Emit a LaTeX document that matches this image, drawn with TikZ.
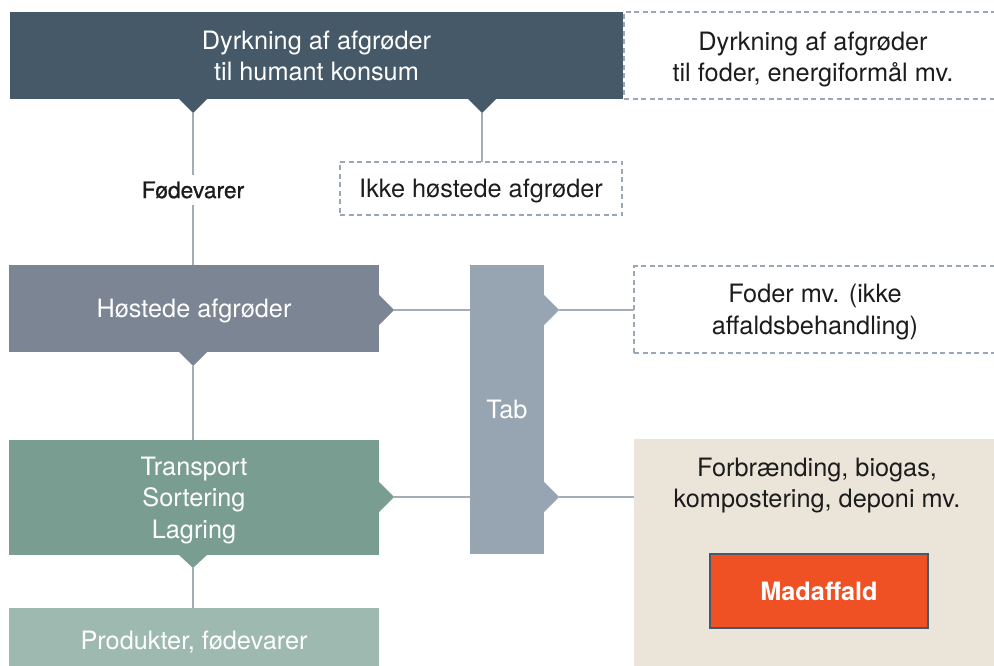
\documentclass[tikz,border=0pt]{standalone}
\usepackage{fontspec}
\setmainfont{TeX Gyre Heros}
\definecolor{darkslate}{HTML}{455968}
\definecolor{hoestc}{HTML}{7B8593}
\definecolor{tabc}{HTML}{97A5B3}
\definecolor{transc}{HTML}{7A9D92}
\definecolor{prodc}{HTML}{9EB9AF}
\definecolor{beigec}{HTML}{EBE4D9}
\definecolor{orangec}{HTML}{F05124}
\definecolor{dashc}{HTML}{9AA8B5}
\definecolor{linec}{HTML}{A3ADB5}
\definecolor{textc}{HTML}{1C1C1C}
\begin{document}
\begin{tikzpicture}[x=1pt,y=-1pt,
  font=\fontsize{25.3}{31.5}\selectfont,
  box/.style={inner sep=0pt, outer sep=0pt, align=center, text=white, text depth=0pt},
  dashbox/.style={inner sep=0pt, outer sep=0pt, align=center, text=textc, text depth=0pt,
    draw=dashc, line width=1.3pt, dash pattern=on 5pt off 3.5pt},
  txt/.style={text=textc, align=center, inner sep=0pt, text depth=0pt},
  conn/.style={draw=linec, line width=1.4pt}]
\useasboundingbox (0,0) rectangle (994,666);
\clip (0,0) rectangle (994,666);

% boxes
\node[box, fill=darkslate, minimum width=613pt, minimum height=87pt] (top) at (316.5,55.5)
  {Dyrkning af afgrøder\\til humant konsum};
\node[dashbox, minimum width=372pt, minimum height=87pt] (topr) at (810,55.5) {};
\node[txt] (toprt) at (813,56.5)
  {Dyrkning af afgrøder\\til foder, energiformål mv.};
\node[dashbox, minimum width=282pt, minimum height=53pt] (ikke) at (481,188.5)
  {Ikke høstede afgrøder};
\node[box, fill=hoestc, minimum width=370pt, minimum height=87pt] (hoest) at (194,308.5)
  {Høstede afgrøder};
\node[box, fill=tabc, minimum width=74pt, minimum height=289pt] (tab) at (507,409.5) {Tab};
\node[dashbox, minimum width=362pt, minimum height=87pt] (foder) at (815,309.5)
  {Foder mv. (ikke\\affaldsbehandling)};
\node[box, fill=transc, minimum width=370pt, minimum height=115pt] (trans) at (194,497.5)
  {Transport\\Sortering\\Lagring};
\node[box, fill=prodc, minimum width=370pt, minimum height=64pt] (prod) at (194,640)
  {Produkter, fødevarer};
\node[box, fill=beigec, minimum width=362pt, minimum height=241pt] (beige) at (815,559.5) {};
\node[txt] (beiget) at (817,483)
  {Forbrænding, biogas,\\kompostering, deponi mv.};
\node[box, fill=orangec, draw=darkslate, line width=2.5pt, minimum width=218pt, minimum height=74pt,
  font=\fontsize{25.3}{30}\selectfont\bfseries] (mad) at (819,591) {Madaffald};

% notches
\fill[darkslate] (178,98) -- (208,98) -- (193,113) coordinate (t1) -- cycle;
\fill[darkslate] (467,98) -- (497,98) -- (482,113) coordinate (t2) -- cycle;
\fill[hoestc] (378,294) -- (378,326) -- (394,310) coordinate (hr) -- cycle;
\fill[hoestc] (178,351) -- (208,351) -- (193,366) coordinate (hb) -- cycle;
\fill[tabc] (543,294) -- (543,326) -- (559,310) coordinate (tr1) -- cycle;
\fill[tabc] (543,481) -- (543,513) -- (559,497) coordinate (tr2) -- cycle;
\fill[transc] (378,481) -- (378,513) -- (394,497) coordinate (trr) -- cycle;
\fill[transc] (178,554) -- (208,554) -- (193,568) coordinate (tb) -- cycle;

% label
\node[text=textc, inner sep=0pt, minimum height=30pt,
  font=\fontsize{22.8}{24}\selectfont\addfontfeature{FakeBold=0.8}] (fode) at (193,190) {Fødevarer};

% connectors
\draw[conn] (t1) -- (fode.north);
\draw[conn] (fode.south) -- (hoest.north -| fode.south);
\draw[conn] (t2) -- (ikke.north -| t2);
\draw[conn] (hr) -- (hr -| tab.west);
\draw[conn] (trr) -- (trr -| tab.west);
\draw[conn] (tr1) -- (tr1 -| foder.west);
\draw[conn] (tr2) -- (tr2 -| beige.west);
\draw[conn] (hb) -- (trans.north -| hb);
\draw[conn] (tb) -- (prod.north -| tb);
\end{tikzpicture}
\end{document}
